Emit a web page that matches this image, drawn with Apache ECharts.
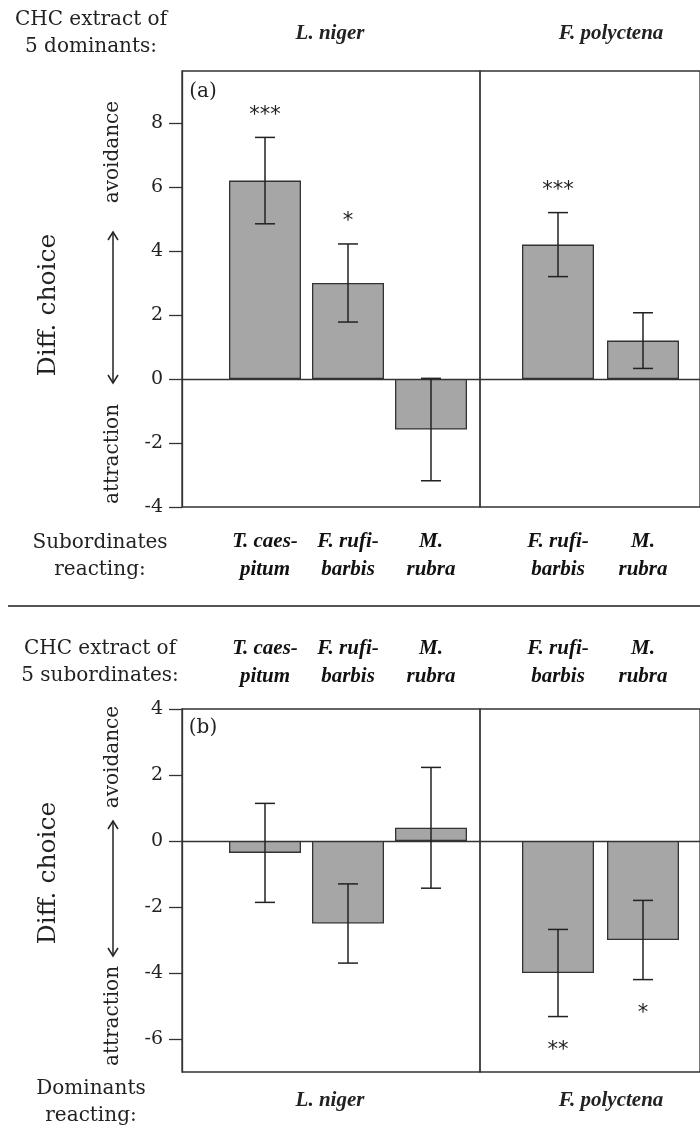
<!DOCTYPE html>
<html lang="en">
<head>
<meta charset="UTF-8">
<title>Diff. choice</title>
<style>
  html, body { margin: 0; padding: 0; background: #fff; }
  #main { width: 700px; height: 1136px; }
</style>
</head>
<body>
<div id="main"></div>
<script src="https://cdn.jsdelivr.net/npm/echarts@6/dist/echarts.min.js"></script>
<script>
// ---- data ----
// panel (a): CHC extract of dominants, subordinates reacting
var subsL = ['T. caes-\npitum', 'F. rufi-\nbarbis', 'M.\nrubra'];
var subsF = ['F. rufi-\nbarbis', 'M.\nrubra'];
var meanA_L = [6.2, 3.0, -1.58];
var errA_L = [1.35, 1.22, 1.6];
var sigA_L = ['***', '*', ''];
var meanA_F = [4.2, 1.2];
var errA_F = [1.0, 0.87];
var sigA_F = ['***', ''];
// panel (b): CHC extract of subordinates, dominants reacting
var meanB_L = [-0.36, -2.5, 0.4];
var errB_L = [1.5, 1.2, 1.83];
var sigB_L = ['', '', ''];
var meanB_F = [-4.0, -3.0];
var errB_F = [1.32, 1.2];
var sigB_F = ['**', '*'];
var ticksA = [-4, -2, 0, 2, 4, 6, 8];
var ticksB = [-6, -4, -2, 0, 2, 4];

var SERIF = 'DejaVu Serif';
var INK = '#222';

var chart = echarts.init(document.getElementById('main'));

// layout of the two panels (px)
var P = {
    a: { top: 71, bottom: 1136 - 507, min: -4, max: 9.625, ticks: ticksA, labelPos: 'bottom', labelMargin: 21 },
    b: { top: 709, bottom: 1136 - 1072, min: -7, max: 4, ticks: ticksB, labelPos: 'top', labelMargin: 18 }
};
var xLeft = 182, xDiv = 480;

var grids = [], xAxes = [], yAxes = [], series = [];

function addGrid(g, yAx, xAx) {
    grids.push(g);
    var idx = grids.length - 1;
    yAx.gridIndex = idx; xAx.gridIndex = idx;
    yAxes.push(yAx); xAxes.push(xAx);
    return idx;
}

function frame(p) {
    // left section with y axis
    addGrid({ left: xLeft, right: 700 - xDiv, top: p.top, bottom: p.bottom, show: true, borderColor: '#333', borderWidth: 1.3 },
        { type: 'value', min: p.min, max: p.max, splitLine: { show: false },
          axisLine: { show: true, lineStyle: { color: '#333', width: 1.3 } },
          axisTick: { show: true, length: 13, lineStyle: { color: '#333', width: 1.3 }, customValues: p.ticks },
          axisLabel: { customValues: p.ticks, margin: 19, fontFamily: SERIF, fontSize: 19, color: INK } },
        { type: 'category', data: [''], axisTick: { show: false }, axisLabel: { show: false },
          axisLine: { onZero: true, lineStyle: { color: '#333', width: 1.3 } } });
    // right section
    addGrid({ left: xDiv, right: 0, top: p.top, bottom: p.bottom, show: true, borderColor: '#333', borderWidth: 1.3 },
        { type: 'value', min: p.min, max: p.max, show: false },
        { type: 'category', data: [''], axisTick: { show: false }, axisLabel: { show: false },
          axisLine: { onZero: true, lineStyle: { color: '#333', width: 1.3 } } });
}

function errItem(sigs) {
    return function (params, api) {
        var i = api.value(0), m = api.value(1), s = api.value(2);
        var hi = api.coord([i, m + s]), lo = api.coord([i, m - s]);
        var cap = 10, x = hi[0];
        var st = { stroke: INK, lineWidth: 1.5 };
        var kids = [
            { type: 'line', shape: { x1: x, y1: hi[1], x2: x, y2: lo[1] }, style: st },
            { type: 'line', shape: { x1: x - cap, y1: hi[1], x2: x + cap, y2: hi[1] }, style: st },
            { type: 'line', shape: { x1: x - cap, y1: lo[1], x2: x + cap, y2: lo[1] }, style: st }
        ];
        var sig = sigs[params.dataIndex];
        if (sig) {
            kids.push({ type: 'text', style: {
                text: sig, x: x, y: m >= 0 ? hi[1] - 22 : lo[1] + 34,
                align: 'center', verticalAlign: 'middle',
                font: '21px "DejaVu Sans"', fill: INK } });
        }
        return { type: 'group', children: kids };
    };
}

function bars(p, left, right, cats, means, errs, sigs) {
    var idx = addGrid({ left: left, right: 700 - right, top: p.top, bottom: p.bottom },
        { type: 'value', min: p.min, max: p.max, show: false },
        { type: 'category', data: cats, position: p.labelPos,
          axisLine: { show: false, onZero: false }, axisTick: { show: false },
          axisLabel: { margin: p.labelMargin, fontFamily: 'Liberation Serif', fontSize: 21, fontWeight: 'bold',
                       fontStyle: 'italic', color: '#111', lineHeight: 28, interval: 0 } });
    series.push({
        type: 'bar', xAxisIndex: idx, yAxisIndex: idx, data: means, barWidth: 72,
        itemStyle: { color: '#a6a6a6', borderColor: '#333', borderWidth: 1.3 },
        silent: true, z: 2
    });
    series.push({
        type: 'custom', xAxisIndex: idx, yAxisIndex: idx, z: 5, silent: true,
        renderItem: errItem(sigs),
        data: means.map(function (m, i) { return [i, m, errs[i]]; })
    });
}

frame(P.a);
frame(P.b);
bars(P.a, 223.5, 472.5, subsL, meanA_L, errA_L, sigA_L);
bars(P.a, 515.5, 685.5, subsF, meanA_F, errA_F, sigA_F);
bars(P.b, 223.5, 472.5, subsL, meanB_L, errB_L, sigB_L);
bars(P.b, 515.5, 685.5, subsF, meanB_F, errB_F, sigB_F);

// annotation helpers
function txt(s, x, y, opt) {
    opt = opt || {};
    return { type: 'text', x: x, y: y, rotation: opt.rot || 0, z: 10,
        style: { text: s, align: 'center', verticalAlign: 'middle',
                 font: (opt.font || ('20px "' + SERIF + '"')), fill: INK, lineHeight: opt.lh || 27 } };
}
var BI = 'italic bold 21px "Liberation Serif"';
function arrow(x, y1, y2) {
    var st = { stroke: INK, lineWidth: 1.5, fill: null };
    return { type: 'group', z: 10, children: [
        { type: 'line', shape: { x1: x, y1: y1, x2: x, y2: y2 }, style: st },
        { type: 'polyline', shape: { points: [[x - 5, y1 + 8], [x, y1], [x + 5, y1 + 8]] }, style: st },
        { type: 'polyline', shape: { points: [[x - 5, y2 - 8], [x, y2], [x + 5, y2 - 8]] }, style: st }
    ] };
}

var graphics = [
    txt('CHC extract of\n5 dominants:', 91, 33),
    txt('L. niger', 330, 34, { font: BI }),
    txt('F. polyctena', 611, 34, { font: BI }),
    txt('(a)', 203, 92),
    txt('Diff. choice', 48, 305, { rot: Math.PI / 2, font: '25px "' + SERIF + '"' }),
    txt('avoidance', 113, 152, { rot: Math.PI / 2 }),
    txt('attraction', 113, 454, { rot: Math.PI / 2 }),
    arrow(113, 232, 383),
    txt('Subordinates\nreacting:', 100, 556),
    { type: 'line', z: 10, shape: { x1: 8, y1: 606, x2: 700, y2: 606 }, style: { stroke: '#555', lineWidth: 2 } },
    txt('CHC extract of\n5 subordinates:', 100, 662),
    txt('(b)', 203, 728),
    txt('Diff. choice', 48, 873, { rot: Math.PI / 2, font: '25px "' + SERIF + '"' }),
    txt('avoidance', 113, 757, { rot: Math.PI / 2 }),
    txt('attraction', 113, 1016, { rot: Math.PI / 2 }),
    arrow(113, 821, 956),
    txt('Dominants\nreacting:', 91, 1102),
    txt('L. niger', 330, 1101, { font: BI }),
    txt('F. polyctena', 611, 1101, { font: BI })
];

chart.setOption({
    backgroundColor: '#fff',
    animation: false,
    grid: grids,
    xAxis: xAxes,
    yAxis: yAxes,
    series: series,
    graphic: graphics
});
</script>
</body>
</html>
